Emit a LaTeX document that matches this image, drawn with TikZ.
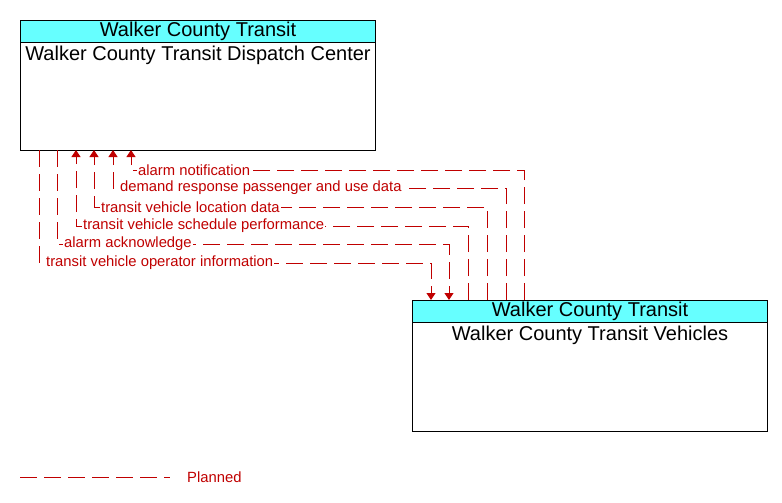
\documentclass[tikz,border=0pt]{standalone}
\usepackage{fontspec}
\setmainfont{Liberation Sans}
\usetikzlibrary{arrows.meta}
\definecolor{planred}{RGB}{192,0,0}
\definecolor{headcyan}{RGB}{102,255,255}
\tikzset{
  boxhead/.style={draw=black, line width=1pt, fill=headcyan, anchor=north west,
    minimum width=355pt, minimum height=22pt, inner sep=0pt,
    font=\fontsize{20}{24}\selectfont},
  boxbody/.style={draw=black, line width=1pt, anchor=north west,
    minimum width=355pt, inner sep=0pt},
  boxname/.style={anchor=north, inner sep=1pt, yshift=-3pt, font=\fontsize{20}{24}\selectfont},
  planned/.style={draw=planred, line width=1pt, dash pattern=on 17pt off 7pt},
  planarrow/.style={planned, -{Triangle[width=9pt,length=7pt]}},
  flowlabel/.style={anchor=west, fill=white, inner sep=1pt, text=planred,
    font=\fontsize{14.8}{18}\selectfont}
}

\begin{document}
\begin{tikzpicture}[x=1pt,y=-1pt]
  \useasboundingbox (0,0) rectangle (782,503);
  % dispatch center
  \node[boxbody, minimum height=108pt] (dispBody) at (20,42) {};
  \node[boxhead] (dispHead) at (20,20) {Walker County Transit};
  \node[boxname] (dispName) at (dispBody.north) {Walker County Transit Dispatch Center};
  % vehicles
  \node[boxbody, minimum height=109pt] (vehBody) at (412,322) {};
  \node[boxhead] (vehHead) at (412,300) {Walker County Transit};
  \node[boxname] (vehName) at (vehBody.north) {Walker County Transit Vehicles};
  % ends on the dispatch center
  \coordinate (d1) at (131,150);
  \coordinate (d2) at (113,150);
  \coordinate (d3) at (94,150);
  \coordinate (d4) at (76,150);
  \coordinate (d5) at (57,150);
  \coordinate (d6) at (39,150);
  % ends on the vehicles
  \coordinate (v1) at (524,300);
  \coordinate (v2) at (506,300);
  \coordinate (v3) at (487,300);
  \coordinate (v4) at (468,300);
  \coordinate (v5) at (449,300);
  \coordinate (v6) at (431,300);
  % corners
  \coordinate (c1) at (131,170);
  \coordinate (c2) at (113,188);
  \coordinate (c3) at (94,207);
  \coordinate (c4) at (76,226);
  \coordinate (c5) at (57,244);
  \coordinate (c6) at (39,263);
  % flows
  \draw[planarrow] (v1) |- (c1) -- (d1);
  \draw[planarrow] (v2) |- (c2) -- (d2);
  \draw[planarrow] (v3) |- (c3) -- (d3);
  \draw[planarrow] (v4) |- (c4) -- (d4);
  \draw[planarrow] (d5) |- (c5) -| (v5);
  \draw[planarrow] (d6) |- (c6) -| (v6);
  \node[flowlabel, xshift=6pt] (f1) at (c1) {alarm notification};
  \node[flowlabel, xshift=6pt] (f2) at (c2) {demand response passenger and use data};
  \node[flowlabel, xshift=6pt] (f3) at (c3) {transit vehicle location data};
  \node[flowlabel, xshift=6pt] (f4) at (c4) {transit vehicle schedule performance};
  \node[flowlabel, xshift=6pt] (f5) at (c5) {alarm acknowledge};
  \node[flowlabel, xshift=6pt] (f6) at (c6) {transit vehicle operator information};
  % legend
  \coordinate (legA) at (20,477);
  \coordinate (legB) at (170,477);
  \draw[planned] (legA) -- (legB);
  \node[flowlabel, fill=none] (legText) at (186,477) {Planned};
\end{tikzpicture}
\end{document}
